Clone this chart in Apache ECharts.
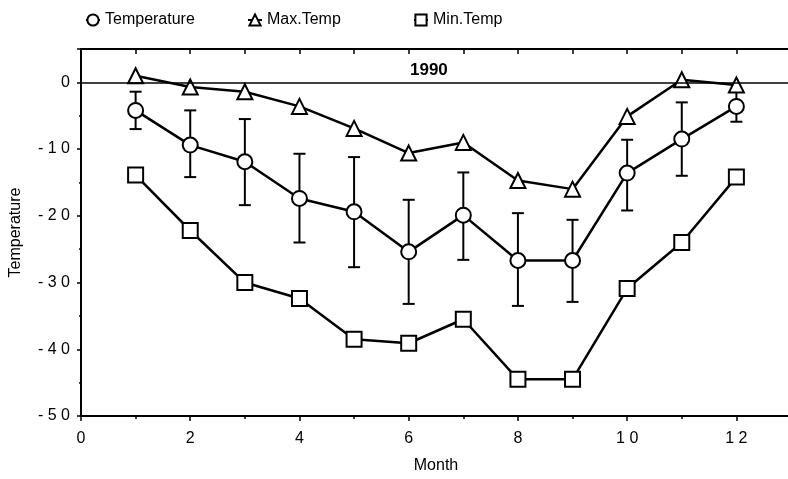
<!DOCTYPE html>
<html>
<head>
<meta charset="utf-8">
<script src="https://cdn.jsdelivr.net/npm/echarts@6/dist/echarts.min.js"></script>
<style>
  html, body { margin: 0; padding: 0; background: #fff; }
  #chart { width: 788px; height: 479px; }
</style>
</head>
<body>
<div id="chart"></div>
<script>
// months 1..12
var months = [1, 2, 3, 4, 5, 6, 7, 8, 9, 10, 11, 12];
var meanTemp = [-4.2, -9.4, -11.9, -17.4, -19.4, -25.4, -19.9, -26.7, -26.7, -13.6, -8.5, -3.6];
var errTop = [-1.4, -4.2, -5.5, -10.7, -11.2, -17.6, -13.5, -19.6, -20.6, -8.6, -3.0, -1.4];
var errBottom = [-7.0, -14.2, -18.4, -24.0, -27.7, -33.2, -26.6, -33.5, -32.9, -19.2, -14.0, -5.9];
var maxTemp = [1.0, -0.7, -1.4, -3.6, -6.9, -10.6, -9.0, -14.7, -16.0, -5.1, 0.4, -0.4];
var minTemp = [-13.9, -22.2, -30.0, -32.4, -38.5, -39.1, -35.5, -44.5, -44.5, -30.9, -24.0, -14.2];

var FONT = "'Liberation Sans', Arial, sans-serif";

function pairs(vals) {
  return months.map(function (m, i) { return [m, vals[i]]; });
}

// tick labels drawn spaced out like the scan: "- 1 0"
function spaced(v) {
  return String(v).split("").join(" ");
}

var chart = echarts.init(document.getElementById("chart"));

var pointStyle = {
  color: "#fff",
  borderColor: "#000",
  borderWidth: 2
};

function legendAt(name, left) {
  return {
    data: [name],
    left: left,
    top: 7,
    itemWidth: 14,
    itemHeight: 14,
    itemGap: 6,
    textStyle: { fontFamily: FONT, fontSize: 16, color: "#000" }
  };
}

var options = {
  animation: false,
  backgroundColor: "#fff",
  title: {
    text: "1990",
    left: 405,
    top: 57,
    textStyle: { fontFamily: FONT, fontSize: 17, fontWeight: "bold", color: "#000" }
  },
  legend: [
    legendAt("Temperature", 80),
    legendAt("Max.Temp", 242),
    legendAt("Min.Temp", 408)
  ],
  grid: { left: 81, right: -3, top: 49, bottom: 63, containLabel: false, outerBoundsMode: "none" },
  xAxis: [
    {
      type: "value",
      min: 0,
      max: 13,
      interval: 2,
      name: "Month",
      nameLocation: "middle",
      nameGap: 42,
      nameTextStyle: { fontFamily: FONT, fontSize: 16, color: "#000" },
      axisLine: { onZero: false, lineStyle: { color: "#000", width: 2 } },
      axisTick: { length: 5, lineStyle: { color: "#000", width: 1.5 } },
      minorTick: { show: true, splitNumber: 2, length: 3, lineStyle: { color: "#000", width: 1.5 } },
      axisLabel: {
        fontFamily: FONT, fontSize: 16, color: "#000", margin: 15,
        showMaxLabel: false,
        formatter: function (v) { return spaced(v); }
      },
      splitLine: { show: false }
    },
    {
      type: "value",
      position: "top",
      min: 0,
      max: 13,
      interval: 1,
      axisLine: { onZero: false, lineStyle: { color: "#000", width: 2 } },
      axisTick: { inside: true, length: 5, lineStyle: { color: "#000", width: 1.5 } },
      axisLabel: { show: false },
      splitLine: { show: false }
    }
  ],
  yAxis: {
    type: "value",
    min: -50,
    max: 5,
    interval: 10,
    name: "Temperature",
    nameLocation: "middle",
    nameGap: 57,
    nameTextStyle: { fontFamily: FONT, fontSize: 16, color: "#000" },
    axisLine: { onZero: false, lineStyle: { color: "#000", width: 2 } },
    axisTick: { length: 4, lineStyle: { color: "#000", width: 1.5 } },
    minorTick: { show: true, splitNumber: 2, length: 2, lineStyle: { color: "#000", width: 1.5 } },
    axisLabel: {
      fontFamily: FONT, fontSize: 16, color: "#000", margin: 11,
      showMaxLabel: false,
      formatter: function (v) { return spaced(v); }
    },
    splitLine: { show: false }
  },
  series: [
    {
      name: "errorbars",
      type: "custom",
      z: 1,
      silent: true,
      data: months.map(function (m, i) { return [m, errTop[i], errBottom[i]]; }),
      renderItem: function (params, api) {
        var top = api.coord([api.value(0), api.value(1)]);
        var bot = api.coord([api.value(0), api.value(2)]);
        var hw = 6;
        var st = { stroke: "#000", lineWidth: 2 };
        return {
          type: "group",
          children: [
            { type: "line", shape: { x1: top[0], y1: top[1], x2: bot[0], y2: bot[1] }, style: st },
            { type: "line", shape: { x1: top[0] - hw, y1: top[1], x2: top[0] + hw, y2: top[1] }, style: st },
            { type: "line", shape: { x1: bot[0] - hw, y1: bot[1], x2: bot[0] + hw, y2: bot[1] }, style: st }
          ]
        };
      }
    },
    {
      name: "Temperature",
      type: "line",
      z: 3,
      data: pairs(meanTemp),
      symbol: "circle",
      symbolSize: 15,
      showAllSymbol: true,
      lineStyle: { color: "#000", width: 2.5 },
      itemStyle: pointStyle
    },
    {
      name: "Max.Temp",
      type: "line",
      z: 3,
      data: pairs(maxTemp),
      symbol: "triangle",
      symbolSize: 15,
      lineStyle: { color: "#000", width: 2.5 },
      itemStyle: pointStyle,
      markLine: {
        silent: true,
        symbol: ["none", "none"],
        label: { show: false },
        lineStyle: { color: "#000", width: 1.5, type: "solid" },
        data: [{ yAxis: 0 }]
      }
    },
    {
      name: "Min.Temp",
      type: "line",
      z: 3,
      data: pairs(minTemp),
      symbol: "rect",
      symbolSize: 15,
      lineStyle: { color: "#000", width: 2.5 },
      itemStyle: pointStyle
    }
  ]
};

chart.setOption(options);
</script>
</body>
</html>
